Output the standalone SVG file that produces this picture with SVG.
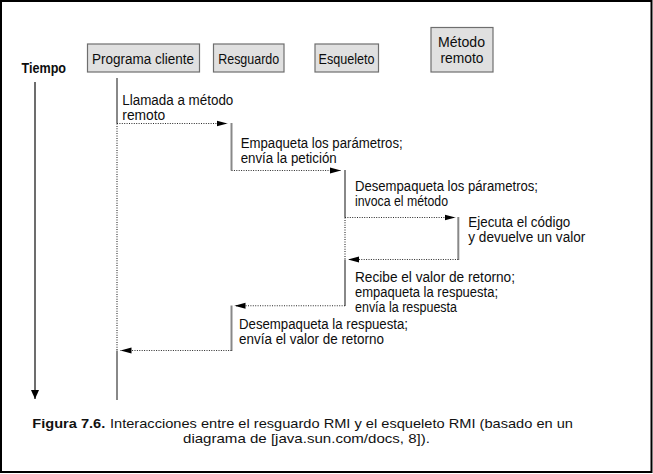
<svg xmlns="http://www.w3.org/2000/svg" width="653" height="474" viewBox="0 0 653 474">
<style>
  .box { fill:#e0e0e0; stroke:#6e6e6e; stroke-width:1.2; }
  .lbl { font-family:"Liberation Sans", Arial, sans-serif; font-size:14px; fill:#0d0d0d; }
  .bold { font-weight:bold; }
  .life { stroke:#888; stroke-width:2; fill:none; }
  .dot { stroke:#2a2a2a; stroke-width:1.1; stroke-dasharray:1 1.4; fill:none; }
  .msg { stroke:#2a2a2a; stroke-width:1.1; stroke-dasharray:1 1.4; fill:none; marker-end:url(#ah); }
  .cap { font-family:"Liberation Sans", Arial, sans-serif; font-size:13.5px; fill:#111; }
</style>
<defs>
  <marker id="ah" markerUnits="userSpaceOnUse" markerWidth="12" markerHeight="7" refX="11" refY="3.5" orient="auto">
    <path d="M0,0.5 L11,3.5 L0,6.5 z" fill="#000"/>
  </marker>
  <marker id="tah" markerUnits="userSpaceOnUse" markerWidth="8" markerHeight="10" refX="4" refY="9" orient="0">
    <path d="M0,0 L8,0 L4,9 z" fill="#000"/>
  </marker>
</defs>
<rect x="1" y="1" width="650.5" height="471" fill="#fff" stroke="#000" stroke-width="2"/>

<g id="tiempo">
  <text class="lbl bold" x="21.5" y="73" textLength="44.5" lengthAdjust="spacingAndGlyphs" font-size="13">Tiempo</text>
  <line x1="35" y1="82" x2="35" y2="399" stroke="#3c3c3c" stroke-width="1.5" marker-end="url(#tah)"/>
</g>

<g id="programa-cliente">
  <rect class="box" x="87.5" y="44" width="112" height="28"/>
  <text class="lbl" x="143" y="63.5" text-anchor="middle" textLength="102" lengthAdjust="spacingAndGlyphs">Programa cliente</text>
</g>
<g id="resguardo">
  <rect class="box" x="213.5" y="44" width="70.5" height="28"/>
  <text class="lbl" x="248.7" y="63.5" text-anchor="middle" textLength="61" lengthAdjust="spacingAndGlyphs">Resguardo</text>
</g>
<g id="esqueleto">
  <rect class="box" x="315" y="44" width="63.5" height="28"/>
  <text class="lbl" x="346.5" y="63.5" text-anchor="middle" textLength="56" lengthAdjust="spacingAndGlyphs">Esqueleto</text>
</g>
<g id="metodo-remoto">
  <rect class="box" x="431" y="27.5" width="62" height="44.5"/>
  <text class="lbl" x="461.5" y="46.5" text-anchor="middle" textLength="47" lengthAdjust="spacingAndGlyphs">Método</text>
  <text class="lbl" x="462" y="63" text-anchor="middle" textLength="43" lengthAdjust="spacingAndGlyphs">remoto</text>
</g>

<g id="connectors">
  <line class="life" x1="117" y1="78" x2="117" y2="123.5"/>
  <line class="dot" x1="117" y1="123.5" x2="117" y2="350.5"/>
  <line class="life" x1="117" y1="350.5" x2="117" y2="400"/>

  <line class="life" x1="231.5" y1="123" x2="231.5" y2="170.5"/>
  <line class="life" x1="231.5" y1="305.5" x2="231.5" y2="351"/>

  <line class="life" x1="345" y1="170" x2="345" y2="217.5"/>
  <line class="dot" x1="345" y1="217.5" x2="345" y2="259.5"/>
  <line class="life" x1="345" y1="259.5" x2="345" y2="306"/>

  <line class="life" x1="458.3" y1="217" x2="458.3" y2="260"/>

  <line class="msg" x1="117" y1="123.5" x2="227.5" y2="123.5"/>
  <line class="msg" x1="231.5" y1="170.5" x2="341" y2="170.5"/>
  <line class="msg" x1="345" y1="217.5" x2="455.5" y2="217.5"/>
  <line class="msg" x1="458.3" y1="259.5" x2="348" y2="259.5"/>
  <line class="msg" x1="345" y1="305.7" x2="234.5" y2="305.7"/>
  <line class="msg" x1="231.5" y1="350.5" x2="120.5" y2="350.5"/>
</g>

<g id="labels">
  <text class="lbl" x="122.3" y="105" textLength="111" lengthAdjust="spacingAndGlyphs">Llamada a método</text>
  <text class="lbl" x="122.3" y="120" textLength="43" lengthAdjust="spacingAndGlyphs">remoto</text>

  <text class="lbl" x="240.7" y="147.5" textLength="162" lengthAdjust="spacingAndGlyphs">Empaqueta los parámetros;</text>
  <text class="lbl" x="240.7" y="162.5" textLength="96" lengthAdjust="spacingAndGlyphs">envía la petición</text>

  <text class="lbl" x="355" y="191" textLength="183" lengthAdjust="spacingAndGlyphs">Desempaqueta los párametros;</text>
  <text class="lbl" x="355" y="206" textLength="93" lengthAdjust="spacingAndGlyphs">invoca el método</text>

  <text class="lbl" x="468.3" y="226.5" textLength="102" lengthAdjust="spacingAndGlyphs">Ejecuta el código</text>
  <text class="lbl" x="468.3" y="241.5" textLength="117" lengthAdjust="spacingAndGlyphs">y devuelve un valor</text>

  <text class="lbl" x="355" y="281.5" textLength="160" lengthAdjust="spacingAndGlyphs">Recibe el valor de retorno;</text>
  <text class="lbl" x="355" y="296.5" textLength="143" lengthAdjust="spacingAndGlyphs">empaqueta la respuesta;</text>
  <text class="lbl" x="355" y="311.5" textLength="102" lengthAdjust="spacingAndGlyphs">envía la respuesta</text>

  <text class="lbl" x="239" y="329" textLength="169" lengthAdjust="spacingAndGlyphs">Desempaqueta la respuesta;</text>
  <text class="lbl" x="239" y="344" textLength="145" lengthAdjust="spacingAndGlyphs">envía el valor de retorno</text>
</g>

<g id="caption">
  <text class="cap bold" x="32.3" y="427.5" textLength="73" lengthAdjust="spacingAndGlyphs">Figura 7.6.</text>
  <text class="cap" x="110" y="427.5" textLength="463" lengthAdjust="spacingAndGlyphs">Interacciones entre el resguardo RMI y el esqueleto RMI (basado en un</text>
  <text class="cap" x="183" y="443" textLength="247" lengthAdjust="spacingAndGlyphs">diagrama de [java.sun.com/docs, 8]).</text>
</g>
</svg>
